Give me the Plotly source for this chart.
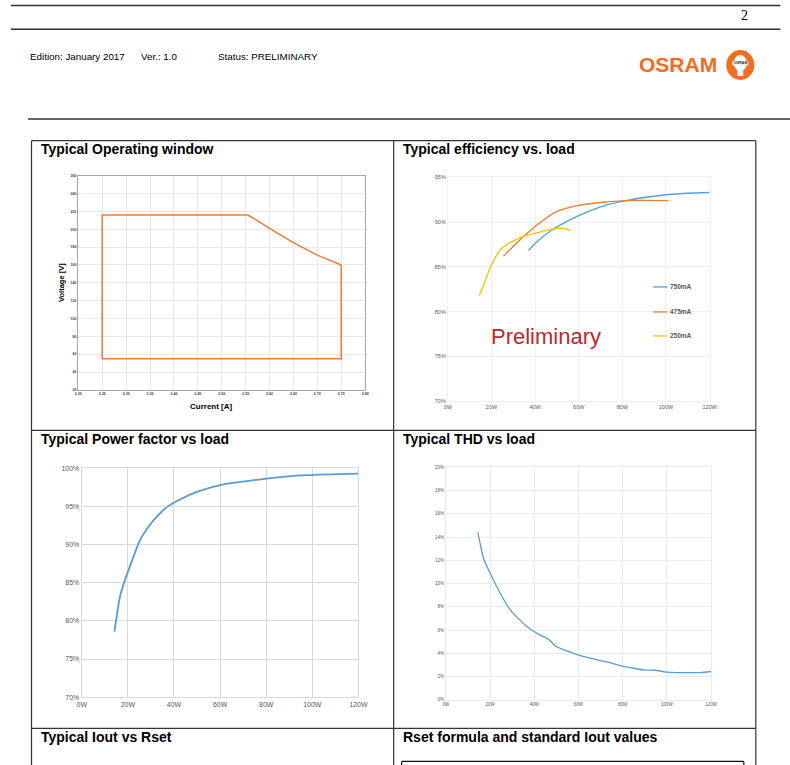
import plotly.graph_objects as go

W, H = 790, 765

# ---------------- data ----------------
ow_current = [0.25, 0.25, 0.555, 0.575, 0.60, 0.65, 0.70, 0.75, 0.75, 0.25]
ow_voltage = [55, 216, 216, 209, 201, 185, 171, 160, 55, 55]

eff750_w = [37, 40, 47, 59, 70, 80.5, 100, 120]
eff750 = [86.8, 87.6, 89.0, 90.6, 91.7, 92.35, 93.05, 93.3]
eff475_w = [25.5, 33, 41, 50, 60.7, 73, 82, 101]
eff475 = [86.2, 88.0, 89.7, 91.2, 91.9, 92.25, 92.4, 92.4]
eff250_w = [14.4, 17, 20, 24, 28.6, 34.7, 42.4, 50, 54.6, 56.6]
eff250 = [81.8, 83.4, 85.2, 86.9, 87.7, 88.4, 88.9, 89.3, 89.2, 89.0]
eff_series = ["750mA", "475mA", "250mA"]

pf_w = [14.2, 16.6, 18.8, 21.7, 25.3, 29.6, 33.3, 36.9, 42.6, 49.9, 60, 68.7, 80.2, 97.6, 120]
pf = [78.6, 83.2, 85.4, 87.8, 90.6, 92.6, 93.9, 94.9, 95.9, 96.9, 97.8, 98.2, 98.65, 99.1, 99.3]

thd_w = [14.5, 17, 20, 24.6, 29.1, 36.7, 41.2, 46.5, 49.5, 54.8, 60.8, 69.9, 72.9, 78.9, 85, 89.5, 94.8, 100, 104.6, 115, 120]
thd = [14.4, 12.2, 10.9, 9.17, 7.74, 6.3, 5.73, 5.2, 4.64, 4.21, 3.81, 3.38, 3.27, 2.95, 2.72, 2.58, 2.55, 2.38, 2.35, 2.35, 2.44]

ow_xticks = [0.20, 0.25, 0.30, 0.35, 0.40, 0.45, 0.50, 0.55, 0.60, 0.65, 0.70, 0.75, 0.80]
ow_yticks = list(range(20, 261, 20))
w_ticks = [0, 20, 40, 60, 80, 100, 120]

# ---------------- helpers (page pixel -> paper fraction) ----------------
def X(px):
    return ((px - 5.0) / 0.9806) / W

def Y(py):
    return 1 - ((py - 4.0) / 0.991) / H

BLUE = "#5B9BD5"
ORANGE = "#ED7D31"
YELLOW = "#FFC000"
TICK = "#595959"
SANS = "Liberation Sans Narrow, Liberation Sans, Arial, sans-serif"
ARIAL = "Liberation Sans, Arial, sans-serif"

fig = go.Figure()

fig.add_trace(go.Scatter(x=ow_current, y=ow_voltage, mode="lines",
                         line=dict(color=ORANGE, width=1.6), xaxis="x", yaxis="y", showlegend=False))
for name, xs, ys, c in [(eff_series[0], eff750_w, eff750, BLUE),
                        (eff_series[1], eff475_w, eff475, ORANGE),
                        (eff_series[2], eff250_w, eff250, YELLOW)]:
    fig.add_trace(go.Scatter(x=xs, y=ys, mode="lines", name=name,
                             line=dict(color=c, width=1.3, shape="spline", smoothing=0.8),
                             xaxis="x2", yaxis="y2", showlegend=False))
fig.add_trace(go.Scatter(x=pf_w, y=pf, mode="lines",
                         line=dict(color=BLUE, width=1.8, shape="spline", smoothing=0.6),
                         xaxis="x3", yaxis="y3", showlegend=False))
fig.add_trace(go.Scatter(x=thd_w, y=thd, mode="lines",
                         line=dict(color=BLUE, width=1.3, shape="spline", smoothing=0.6),
                         xaxis="x4", yaxis="y4", showlegend=False))

def ax(domain, rng, tickvals, ticktext=None, grid="#E6E6E6", size=6, line=None, anchor=None, color=TICK):
    d = dict(domain=domain, range=rng, tickvals=tickvals, showgrid=True, gridcolor=grid, gridwidth=1,
             zeroline=False, showline=True, linecolor=line or grid, linewidth=1, mirror=True,
             ticks="", tickfont=dict(size=size, color=color, family=ARIAL), fixedrange=True, anchor=anchor)
    if ticktext is not None:
        d["ticktext"] = ticktext
    return d

fig.update_layout(
    xaxis=ax([X(78.3), X(365)], [0.20, 0.80], ow_xticks, ["<b>%.2f</b>" % v for v in ow_xticks],
             grid="#E8E8E8", size=3.6, line="#A6A6A6", anchor="y", color="#404040"),
    yaxis=ax([Y(390), Y(175.7)], [20, 260], ow_yticks, ["<b>%d</b>" % v for v in ow_yticks],
             grid="#E8E8E8", size=3.6, line="#A6A6A6", anchor="x", color="#404040"),
    xaxis2=ax([X(447.7), X(709.3)], [0, 120], w_ticks, ["%dW" % v for v in w_ticks],
              grid="#EFEFEF", size=5.5, anchor="y2"),
    yaxis2=ax([Y(401.3), Y(177.3)], [70, 95], [70, 75, 80, 85, 90, 95],
              ["%d%%" % v for v in [70, 75, 80, 85, 90, 95]], grid="#EFEFEF", size=5.5, anchor="x2"),
    xaxis3=ax([X(81.7), X(358.3)], [0, 120], w_ticks, ["%dW" % v for v in w_ticks],
              grid="#D9D9D9", size=7, anchor="y3"),
    yaxis3=ax([Y(697.3), Y(468.3)], [70, 100], [70, 75, 80, 85, 90, 95, 100],
              ["%d%%" % v for v in [70, 75, 80, 85, 90, 95, 100]], grid="#D9D9D9", size=7, anchor="x3"),
    xaxis4=ax([X(445.7), X(710.7)], [0, 120], w_ticks, ["%dW" % v for v in w_ticks],
              grid="#EBEBEB", size=4.5, anchor="y4"),
    yaxis4=ax([Y(700), Y(467.3)], [0, 20], list(range(0, 21, 2)),
              ["%d%%" % v for v in range(0, 21, 2)], grid="#EBEBEB", size=4.5, anchor="x4"),
)

shapes = []
def hline(x0, x1, y, w=1.2, c="#333333"):
    shapes.append(dict(type="line", xref="paper", yref="paper", x0=X(x0), x1=X(x1), y0=Y(y), y1=Y(y),
                       line=dict(color=c, width=w)))
def vline(x, y0, y1, w=1.2, c="#333333"):
    shapes.append(dict(type="line", xref="paper", yref="paper", x0=X(x), x1=X(x), y0=Y(y0), y1=Y(y1),
                       line=dict(color=c, width=w)))

# page lines
hline(11, 780, 5.5, 1.4)
hline(11, 780, 29.3, 1.4)
hline(28, 790, 119, 1.4)
# table
hline(31.5, 755.5, 140.7, 1.2)
hline(31.5, 755.5, 430.5, 1.2)
hline(31.5, 755.5, 728.5, 1.2)
vline(31.5, 140.7, 775, 1.2)
vline(755.5, 140.7, 775, 1.2)
vline(393.5, 140.7, 775, 1.2)
# bottom right box
hline(401.5, 743.5, 761.5, 1.2, "#111111")
vline(401.5, 761.5, 775, 1.2, "#111111")
vline(743.5, 761.5, 775, 1.2, "#111111")

# legend swatches chart 2
for yy, c in [(287, BLUE), (312, ORANGE), (336, YELLOW)]:
    shapes.append(dict(type="line", xref="paper", yref="paper", x0=X(653), x1=X(667), y0=Y(yy), y1=Y(yy),
                       line=dict(color=c, width=1.3)))

# OSRAM logo circle with bulb
shapes.append(dict(type="circle", xref="paper", yref="paper", x0=X(726), x1=X(754), y0=Y(80), y1=Y(50),
                   fillcolor="#F26C21", line=dict(width=0)))
shapes.append(dict(type="circle", xref="paper", yref="paper", x0=X(733.5), x1=X(746.5), y0=Y(71), y1=Y(55),
                   fillcolor="#FFFFFF", line=dict(width=0)))
shapes.append(dict(type="rect", xref="paper", yref="paper", x0=X(737), x1=X(743), y0=Y(76), y1=Y(69),
                   fillcolor="#F4F4F4", line=dict(width=0)))
shapes.append(dict(type="rect", xref="paper", yref="paper", x0=X(732), x1=X(748), y0=Y(65.5), y1=Y(61),
                   fillcolor="#E6ECF4", line=dict(width=0)))

fig.update_layout(shapes=shapes)

ann = []
def text(x, y, s, size, color="#000000", family=SANS, xanchor="left", bold=False, textangle=0):
    if bold:
        s = "<b>" + s + "</b>"
    ann.append(dict(x=X(x), y=Y(y), xref="paper", yref="paper", text=s, showarrow=False,
                    xanchor=xanchor, yanchor="middle", textangle=textangle,
                    font=dict(size=size, color=color, family=family)))

text(750, 16, "2", 14, family="Liberation Serif, Times New Roman, serif", xanchor="right")
text(28, 56.5, "Edition: January 2017", 9.8)
text(139, 56.5, "Ver.: 1.0", 9.8)
text(216, 56.5, "Status: PRELIMINARY", 9.8)
text(678, 65, "OSRAM", 21, color="#F26C21", family=ARIAL, xanchor="center", bold=True)
text(740, 63.3, "OSRAM", 3.6, color="#3A3A3A", family=ARIAL, xanchor="center", bold=True)

text(38.5, 149, "Typical Operating window", 14, bold=True)
text(401, 149, "Typical efficiency vs. load", 14, bold=True)
text(38.5, 439, "Typical Power factor vs load", 14, bold=True)
text(401, 439, "Typical THD vs load", 14, bold=True)
text(38.5, 737, "Typical Iout vs Rset", 14, bold=True)
text(401, 737, "Rset formula and standard Iout values", 14, bold=True)

text(62, 283, "Voltage [V]", 7.5, family=ARIAL, xanchor="center", bold=True, textangle=-90)
text(211, 407, "Current [A]", 8, family=ARIAL, xanchor="center", bold=True)

for yy, s in [(287, eff_series[0]), (312, eff_series[1]), (336, eff_series[2])]:
    text(668, yy, s, 6.5, color=TICK, family=ARIAL, bold=True)

text(546, 336.5, "Preliminary", 22, color="#C0272D", family=ARIAL, xanchor="center")

fig.update_layout(annotations=ann, width=W, height=H, margin=dict(l=0, r=0, t=0, b=0),
                  paper_bgcolor="white", plot_bgcolor="white", showlegend=False)

fig.write_html("out.html", config={"displayModeBar": False},
               post_script="document.body.style.margin='0';document.body.style.overflow='hidden';")
